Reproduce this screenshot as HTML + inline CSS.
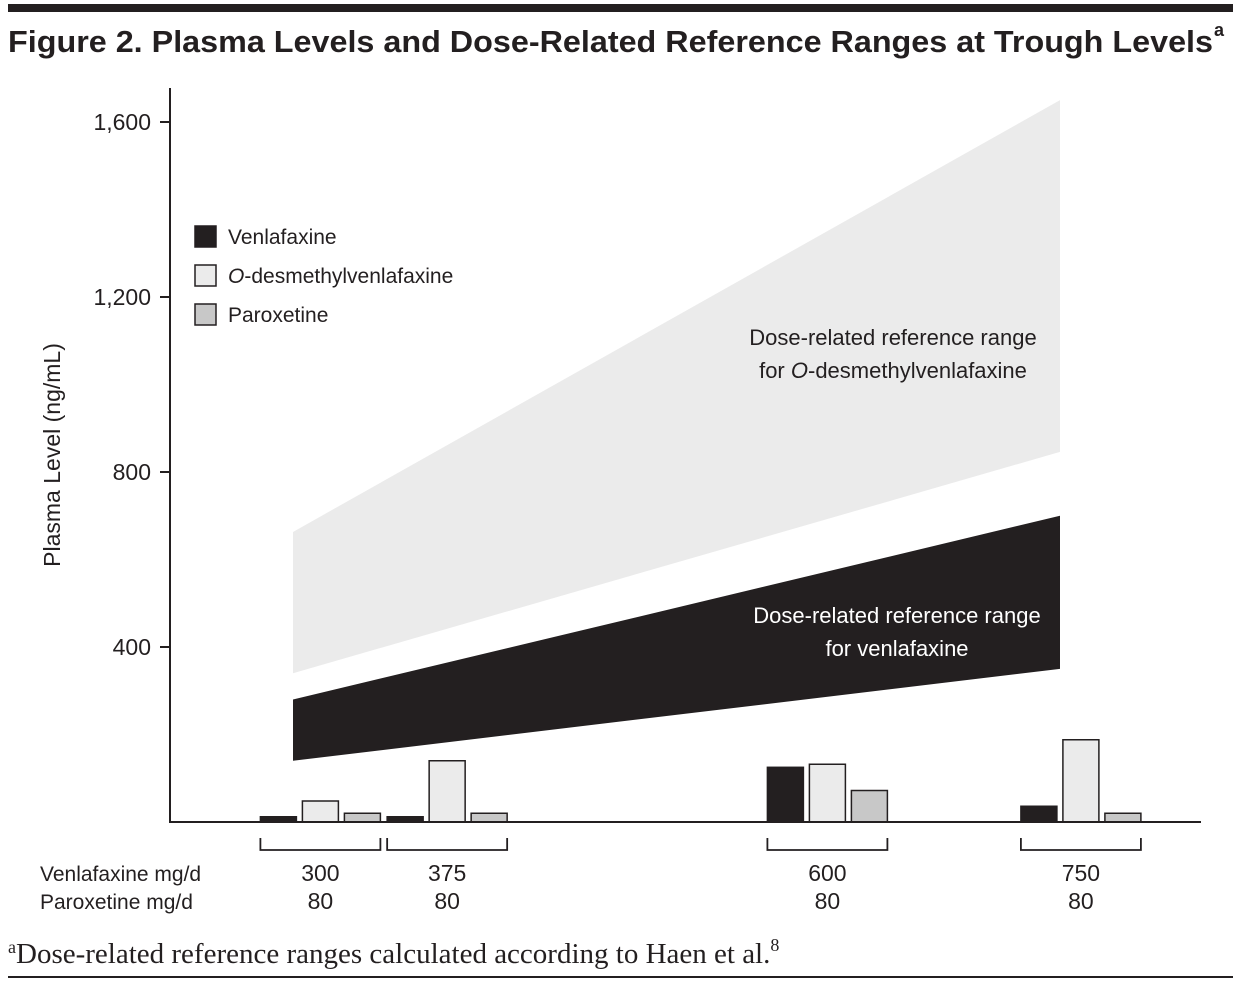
<!DOCTYPE html>
<html><head><meta charset="utf-8"><style>
body{margin:0;background:#fff}
svg{display:block;font-family:"Liberation Sans",sans-serif}
</style></head><body>
<svg width="1241" height="983" viewBox="0 0 1241 983">
<rect x="8" y="4" width="1225" height="8" fill="#231f20"/>
<text x="8" y="52" font-size="31" font-weight="bold" fill="#231f20" textLength="1205" lengthAdjust="spacingAndGlyphs">Figure 2. Plasma Levels and Dose-Related Reference Ranges at Trough Levels</text>
<text x="1214" y="36" font-size="18" font-weight="bold" fill="#231f20">a</text>
<g id="plot"></g>
<text x="8" y="963" font-family="Liberation Serif,serif" font-size="29" fill="#231f20"><tspan font-size="18" dy="-10">a</tspan><tspan dy="10">Dose-related reference ranges calculated according to Haen et al.</tspan><tspan font-size="18" dy="-12">8</tspan></text>
<rect x="8" y="976" width="1225" height="2" fill="#231f20"/>
</svg>
<script>
const doses=[300,375,600,750];
const paroxDoses=[80,80,80,80];
const venlafaxine=[12,12,125,36];
const odv=[48,140,132,188];
const paroxetine=[20,20,72,20];
const yTicks=[400,800,1200,1600];
const yTickLabels=["400","800","1,200","1,600"];
const venRangeLow=[140,350], venRangeHigh=[280,700];
const odvRangeLow=[340,846], odvRangeHigh=[663,1650];
const rangeDoses=[300,750];

const NS="http://www.w3.org/2000/svg";
const g=document.getElementById('plot');
const y=v=>822-v*0.4375;
const x=d=>-186.6+d*1.69;
const bx=d=>293+(d-300)*(767/450);
function el(t,a,txt){const e=document.createElementNS(NS,t);for(const k in a)e.setAttribute(k,a[k]);if(txt!==undefined)e.textContent=txt;g.appendChild(e);return e;}
function band(lo,hi,fill,name){
  const p=rangeDoses.map((d,i)=>[bx(d),y(lo[i])]);
  const q=rangeDoses.map((d,i)=>[bx(d),y(hi[i])]).reverse();
  const e=el('polygon',{points:p.concat(q).map(a=>a.join(',')).join(' '),fill:fill});
  
  
}
band(odvRangeLow,odvRangeHigh,'#ebebeb','odv-reference-range');
band(venRangeLow,venRangeHigh,'#231f20','venlafaxine-reference-range');
let t;
t=el('text',{x:893,y:345,'font-size':22,'text-anchor':'middle',fill:'#231f20'},'Dose-related reference range');

t=el('text',{x:893,y:378,'font-size':22,'text-anchor':'middle',fill:'#231f20'});
t.innerHTML='for <tspan font-style="italic">O</tspan>-desmethylvenlafaxine';

t=el('text',{x:897,y:623,'font-size':22,'text-anchor':'middle',fill:'#fff'},'Dose-related reference range');

t=el('text',{x:897,y:656,'font-size':22,'text-anchor':'middle',fill:'#fff'},'for venlafaxine');


const series=[[venlafaxine,'#231f20',-60,'venlafaxine'],[odv,'#ebebeb',-18,'odv'],[paroxetine,'#c8c8c8',24,'paroxetine']];
series.forEach(s=>{
  doses.forEach((d,i)=>{
    const r=el('rect',{x:x(d)+s[2],y:y(s[0][i]),width:36,height:822-y(s[0][i]),fill:s[1],stroke:'#231f20','stroke-width':1.5});
    
    
  });
});
t=el('line',{x1:170,y1:88,x2:170,y2:822,stroke:'#231f20','stroke-width':2});

t=el('line',{x1:169,y1:822,x2:1201,y2:822,stroke:'#231f20','stroke-width':2});

yTicks.forEach((v,i)=>{
  const l=el('line',{x1:160,y1:y(v),x2:170,y2:y(v),stroke:'#231f20','stroke-width':2});
  
  const tx=el('text',{x:151,y:y(v)+8,'font-size':23,'text-anchor':'end',fill:'#231f20'},yTickLabels[i]);
  
});
t=el('text',{x:0,y:0,'font-size':23,'text-anchor':'middle',fill:'#231f20',transform:'translate(60,455) rotate(-90)'},'Plasma Level (ng/mL)');

doses.forEach((d,i)=>{
  const c=x(d);
  const b=el('path',{d:`M${c-60},838 V850 H${c+60} V838`,fill:'none',stroke:'#231f20','stroke-width':1.8});
  
  const a=el('text',{x:c,y:881,'font-size':23,'text-anchor':'middle',fill:'#231f20'},String(d));
  
  const p=el('text',{x:c,y:909,'font-size':23,'text-anchor':'middle',fill:'#231f20'},String(paroxDoses[i]));
  
});
t=el('text',{x:40,y:881,'font-size':21,fill:'#231f20'},'Venlafaxine mg/d');

t=el('text',{x:40,y:909,'font-size':21,fill:'#231f20'},'Paroxetine mg/d');

const leg=[['#231f20','Venlafaxine',0],['#ebebeb',null,1],['#c8c8c8','Paroxetine',2]];
leg.forEach(L=>{
  const yy=226+L[2]*39;
  const r=el('rect',{x:195,y:yy,width:21,height:21,fill:L[0],stroke:'#231f20','stroke-width':1.5});
  
  const tx=el('text',{x:228,y:yy+18,'font-size':21,fill:'#231f20'});
  if(L[1])tx.textContent=L[1];else tx.innerHTML='<tspan font-style="italic">O</tspan>-desmethylvenlafaxine';
  
});
</script>
</body></html>
